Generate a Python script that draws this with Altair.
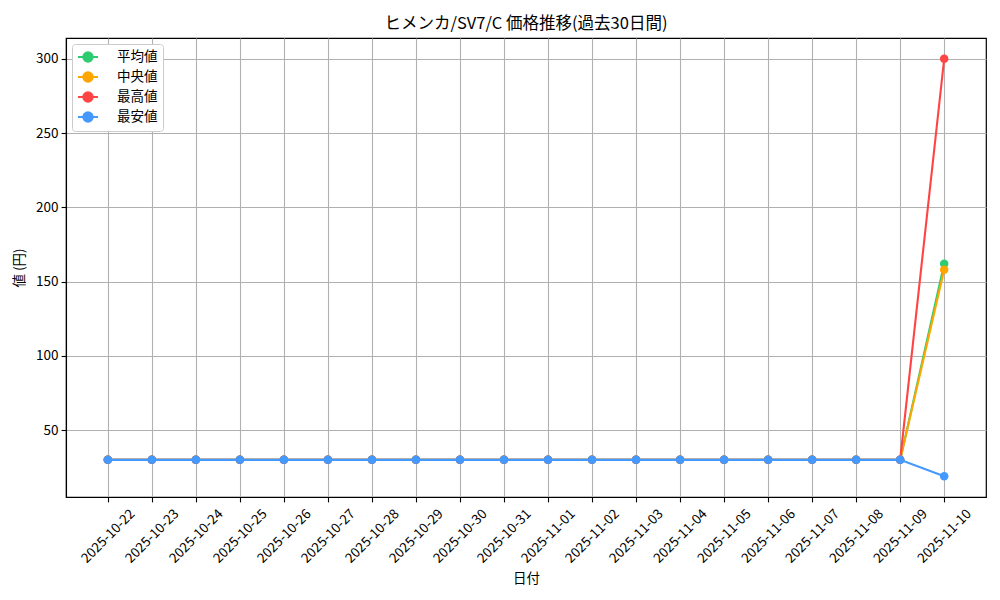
import altair as alt
import pandas as pd

dates = [
    "2025-10-22", "2025-10-23", "2025-10-24", "2025-10-25", "2025-10-26",
    "2025-10-27", "2025-10-28", "2025-10-29", "2025-10-30", "2025-10-31",
    "2025-11-01", "2025-11-02", "2025-11-03", "2025-11-04", "2025-11-05",
    "2025-11-06", "2025-11-07", "2025-11-08", "2025-11-09", "2025-11-10",
]
avg_vals = [30, 30, 30, 30, 30, 30, 30, 30, 30, 30, 30, 30, 30, 30, 30, 30, 30, 30, 30, 162]
med_vals = [30, 30, 30, 30, 30, 30, 30, 30, 30, 30, 30, 30, 30, 30, 30, 30, 30, 30, 30, 158]
max_vals = [30, 30, 30, 30, 30, 30, 30, 30, 30, 30, 30, 30, 30, 30, 30, 30, 30, 30, 30, 300]
min_vals = [30, 30, 30, 30, 30, 30, 30, 30, 30, 30, 30, 30, 30, 30, 30, 30, 30, 30, 30, 19]
series_names = ["平均値", "中央値", "最高値", "最安値"]
colors = ["#2ECC71", "#FFA500", "#FF4444", "#4499FF"]
y_ticks = [50, 100, 150, 200, 250, 300]

rows = []
for name, vals in zip(series_names, [avg_vals, med_vals, max_vals, min_vals]):
    for d, v in zip(dates, vals):
        rows.append({"日付": d, "値": v, "系列": name})
df = pd.DataFrame(rows)

FONT = "Noto Sans CJK JP"

# legend glyph: a short line with a dot on it (matplotlib style)
symbol_path = (
    "M-1,0L1.857,0"
    "M1.1,0A0.671,0.671,0,1,1,-0.243,0A0.671,0.671,0,1,1,1.1,0Z"
)

color_enc = alt.Color(
    "系列:N",
    scale=alt.Scale(domain=series_names, range=colors),
    legend=alt.Legend(
        title=None,
        orient="top-left",
        offset=6,
        padding=5,
        fillColor="white",
        strokeColor="#cccccc",
        cornerRadius=3,
        symbolType=symbol_path,
        symbolSize=196,
        symbolStrokeWidth=2,
        labelFont=FONT,
        labelFontSize=13.5,
        labelColor="black",
        rowPadding=2,
        labelOffset=24,
    ),
)

x_enc = alt.X(
    "日付:O",
    sort=dates,
    scale=alt.Scale(type="point", padding=0.95),
    axis=alt.Axis(
        title="日付",
        labelAngle=-45,
        labelAlign="center",
        labelBaseline="middle",
        labelPadding=34,
        grid=True,
        titlePadding=6,
    ),
)
y_enc = alt.Y(
    "値:Q",
    scale=alt.Scale(domain=[5, 314], nice=False, zero=False),
    axis=alt.Axis(title="値 (円)", values=y_ticks, grid=True, titlePadding=9, labelPadding=3),
)

layers = []
for name in series_names:
    base = alt.Chart(df).transform_filter(alt.datum["系列"] == name).encode(
        x=x_enc, y=y_enc, color=color_enc
    )
    layers.append(base.mark_line(strokeWidth=2.1))
    layers.append(base.mark_point(filled=True, size=72, opacity=1))

chart = alt.layer(*layers).properties(
    width=920,
    height=459,
    autosize=alt.AutoSizeParams(type="none"),
    padding={"left": 58, "top": 30, "right": 6, "bottom": 95},
    title=alt.Title(
        "ヒメンカ/SV7/C 価格推移(過去30日間)",
        font=FONT,
        fontSize=16.5,
        fontWeight="normal",
        color="black",
        anchor="middle",
        offset=6,
    ),
).configure_view(
    stroke="black", strokeWidth=1.2
).configure_axis(
    labelFont=FONT,
    labelFontSize=13.5,
    labelColor="black",
    titleFont=FONT,
    titleFontSize=13.5,
    titleFontWeight="normal",
    titleColor="black",
    domainColor="black",
    domainWidth=1.1,
    tickColor="black",
    tickSize=4.9,
    tickWidth=1.1,
    gridColor="#b0b0b0",
    gridWidth=1.1,
)

chart.save("out.html", embed_options={"renderer": "svg", "actions": False})
